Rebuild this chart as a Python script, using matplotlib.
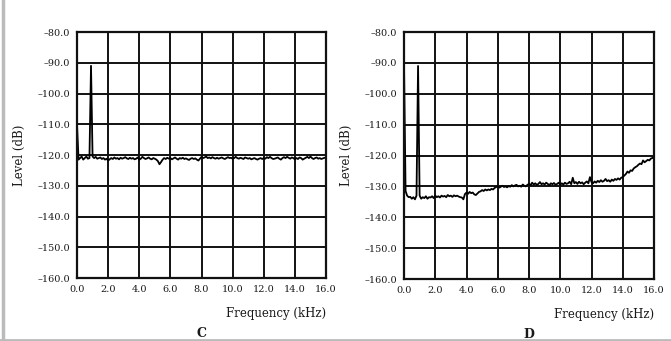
#!/usr/bin/env python3
"""Noise spectra, panels C and D: level vs frequency."""

import matplotlib
matplotlib.use("Agg")
import matplotlib.pyplot as plt
from matplotlib.lines import Line2D
import numpy as np

# frequency grid in kHz (0.0 .. 16.0, step 0.1)
FREQ_KHZ = np.round(np.arange(0, 161) * 0.1, 1)

# panel C levels (dB)
LEVEL_C = [
    -110.0, -121.5, -121.0, -120.5, -121.5, -121.0, -120.5, -121.2, -121.0, -91.0,
    -120.5, -121.0, -120.6, -121.2, -121.0, -120.8, -121.3, -121.0, -121.5, -121.2,
    -121.8, -121.4, -121.0, -121.3, -120.8, -121.2, -121.0, -121.4, -120.9, -121.2,
    -121.0, -120.7, -121.1, -121.3, -120.9, -121.2, -121.0, -121.4, -121.2, -120.8,
    -121.5, -121.2, -120.6, -121.0, -121.3, -121.1, -120.8, -121.2, -121.4, -121.0,
    -121.2, -121.5, -122.0, -123.0, -122.3, -121.5, -121.0, -121.3, -120.9, -121.2,
    -121.0, -121.4, -121.1, -120.8, -121.2, -121.5, -121.0, -121.2, -120.9, -121.3,
    -121.1, -121.4, -121.6, -121.2, -121.0, -121.3, -121.1, -121.5, -121.8, -121.2,
    -120.6, -121.0, -120.8, -120.5, -121.0, -120.8, -121.1, -120.7, -121.0, -121.2,
    -120.9, -121.2, -121.0, -120.8, -121.1, -121.3, -121.0, -120.7, -121.0, -120.9,
    -121.2, -121.0, -120.6, -121.0, -121.2, -120.9, -121.1, -121.3, -120.8, -121.0,
    -121.2, -121.0, -121.4, -121.2, -121.0, -121.3, -121.5, -121.2, -121.0, -121.3,
    -121.0, -121.2, -120.7, -121.0, -120.6, -121.0, -121.3, -121.2, -121.0, -120.8,
    -121.2, -121.5, -121.0, -120.7, -121.0, -120.6, -120.9, -121.2, -120.8, -121.0,
    -121.4, -121.0, -121.3, -120.8, -121.0, -121.5, -121.2, -120.9, -120.6, -121.0,
    -120.5, -121.0, -121.3, -121.0, -120.8, -121.2, -121.0, -121.3, -121.1, -120.9,
    -121.0,
]

# panel D levels (dB)
LEVEL_D = [
    -90.0, -131.5, -133.0, -133.5, -133.4, -134.0, -133.5, -134.2, -133.0, -91.0,
    -133.0, -134.0, -133.5, -133.8, -133.2, -134.0, -133.5, -133.6, -133.2, -133.8,
    -133.0, -133.5, -133.2, -133.6, -133.0, -133.3, -133.1, -133.5, -132.8, -133.2,
    -133.0, -133.4, -132.9, -133.2, -133.0, -133.3, -133.5, -133.6, -134.2, -132.5,
    -132.0, -132.4, -131.8, -132.2, -132.0, -132.6, -132.8, -132.3, -131.8, -131.6,
    -131.2, -131.5, -131.0, -131.3, -131.0, -131.2, -130.8, -131.0, -130.5, -130.2,
    -130.0, -130.4, -130.1, -129.8, -130.2, -130.0, -130.3, -129.9, -130.1, -129.6,
    -130.0, -129.7, -129.5, -130.0, -129.8, -130.1, -129.4, -129.8, -130.0, -129.5,
    -129.2, -129.6, -128.8, -129.4, -129.0, -129.5, -129.2, -128.6, -129.3, -129.0,
    -129.4, -128.8, -129.2, -129.6, -129.0, -129.3, -128.9, -129.5, -129.2, -128.8,
    -129.5, -129.0, -129.4, -128.8, -129.2, -129.0, -128.5, -129.3, -127.2, -129.0,
    -128.6, -129.2, -128.5, -129.0, -128.7, -129.3, -128.8, -128.4, -129.0, -127.0,
    -128.6, -129.0, -128.4, -128.8, -128.2, -128.6, -128.0, -128.5, -128.2, -127.6,
    -128.3, -128.0, -128.5, -127.8, -128.2, -127.6, -127.9, -127.4, -127.8, -127.2,
    -127.0, -126.5, -126.0, -125.2, -125.6, -124.8, -125.0, -124.2, -123.8, -123.5,
    -123.0, -122.6, -122.8, -121.6, -122.2, -121.8, -121.4, -121.6, -121.0, -120.8,
    -120.5,
]

Y_TICKS = [-80, -90, -100, -110, -120, -130, -140, -150, -160]
X_TICKS = [0, 2, 4, 6, 8, 10, 12, 14, 16]
PANELS = [("C", LEVEL_C), ("D", LEVEL_D)]

plt.rcParams["font.family"] = ["DejaVu Serif"]

fig = plt.figure(figsize=(6.71, 3.41), dpi=100)
W, H = 671, 341
boxes = [(77, 32, 326, 278), (404, 32, 654, 279)]

for (letter, level), (x0, y0, x1, y1) in zip(PANELS, boxes):
    ax = fig.add_axes([x0 / W, 1 - y1 / H, (x1 - x0) / W, (y1 - y0) / H])
    ax.plot(FREQ_KHZ, level, color="#000000", lw=1.3)
    ax.set_xlim(0, 16)
    ax.set_ylim(-160, -80)
    ax.set_xticks(X_TICKS)
    ax.set_xticklabels([f"{v:.1f}" for v in X_TICKS])
    ax.set_yticks(Y_TICKS)
    ax.set_yticklabels([f"\u2013{abs(v):.1f}" for v in Y_TICKS])
    ax.tick_params(length=0, labelsize=7, colors="#1a1a1a", pad=5)
    ax.grid(True, color="#111111", lw=1.4)
    ax.set_axisbelow(True)
    for sp in ax.spines.values():
        sp.set_linewidth(1.6)
        sp.set_color("#111111")
    ax.set_ylabel("Level (dB)", fontsize=8.5, color="#1a1a1a", labelpad=8)
    ax.text(1.0, -0.145, "Frequency (kHz)", transform=ax.transAxes,
            ha="right", va="center", fontsize=8.5, color="#1a1a1a")
    ax.text(0.5, -0.225, letter, transform=ax.transAxes, ha="center",
            va="center", fontsize=9, fontweight="bold", color="#1a1a1a")

# grey frame remnants at left and bottom of the scan
fig.add_artist(Line2D([2.5 / W, 2.5 / W], [0, 1], color="#bbbbbb", lw=2.5))
fig.add_artist(Line2D([0, 1], [1.5 / H, 1.5 / H], color="#bbbbbb", lw=2))

fig.savefig("out.png", dpi=100)
